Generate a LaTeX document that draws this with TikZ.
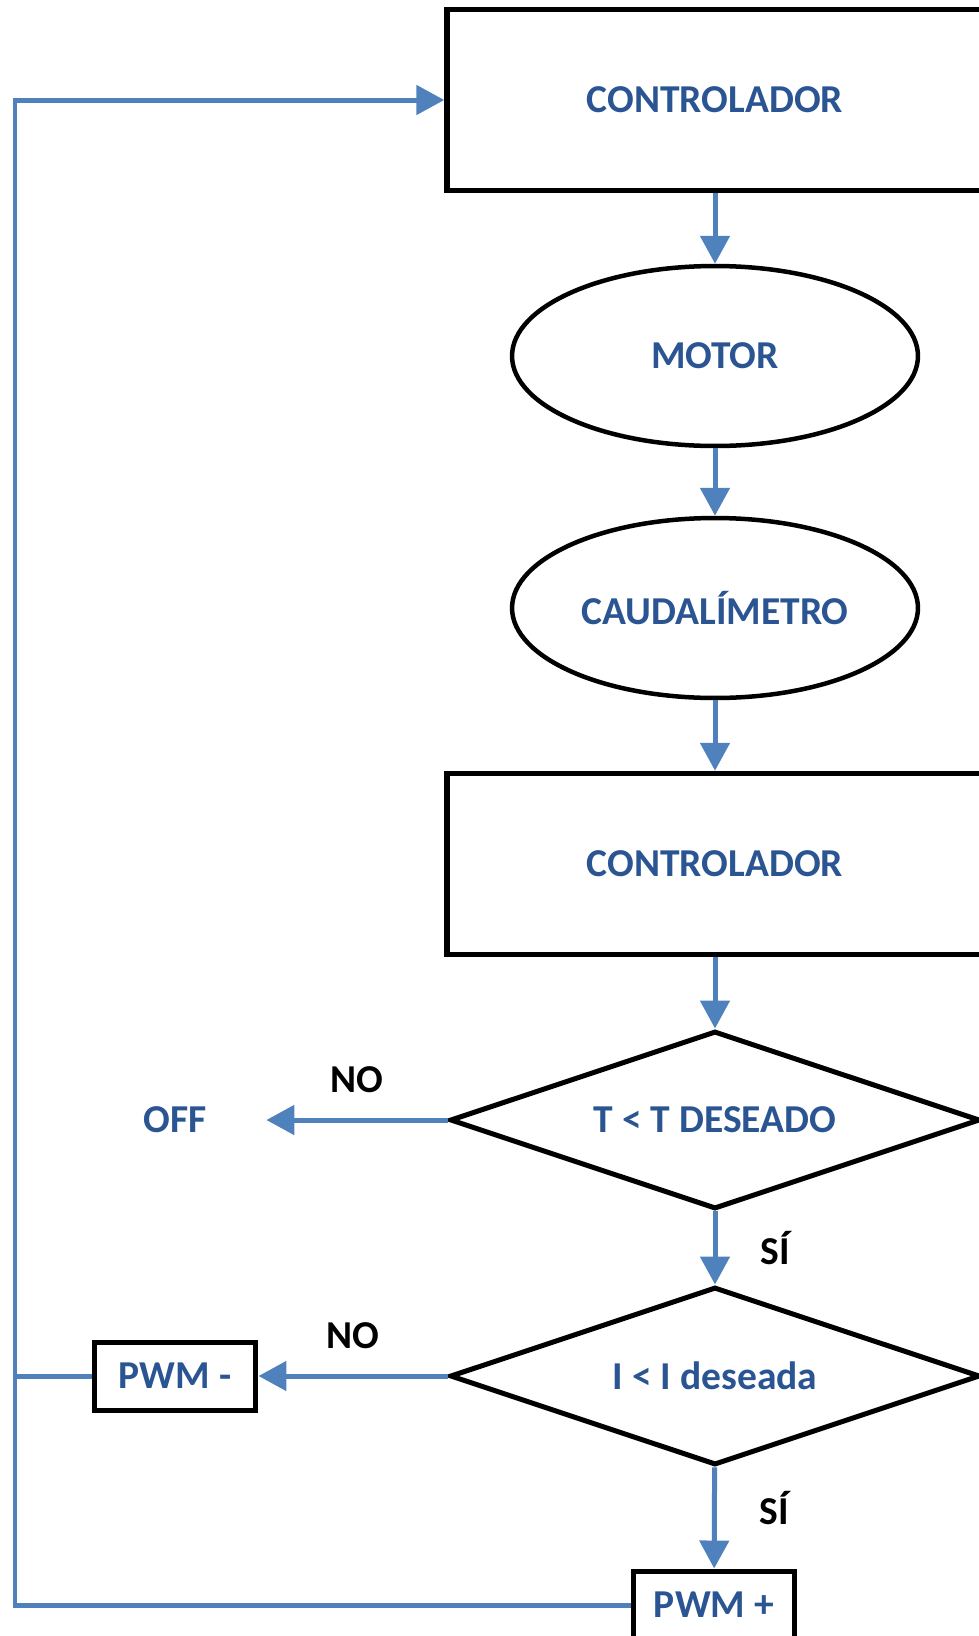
\documentclass[tikz,border=0pt]{standalone}
\usepackage{fontspec}
\setmainfont{Carlito}
\usetikzlibrary{shapes.geometric,arrows.meta}
\definecolor{flowblue}{HTML}{4F81BD}
\definecolor{textblue}{HTML}{2A5592}

\begin{document}
\begin{tikzpicture}[x=0.02cm, y=-0.02cm, every node/.style={font=\bfseries\fontsize{22.5}{26}\selectfont, text=textblue}, >={Triangle[length=5.6mm, width=5.8mm]},
	ctrlbox/.style={draw, line width=0.11cm, minimum width=10.72cm, minimum height=3.62cm, inner sep=0},
	flowell/.style={draw, ellipse, line width=0.09cm, minimum width=8.12cm, minimum height=3.6cm, inner sep=0},
	decision/.style={draw, diamond, shape aspect=3, line width=0.1cm, minimum width=10.6cm, minimum height=3.56cm, inner sep=0},
	pwmbox/.style={draw, line width=0.1cm, minimum width=3.24cm, minimum height=1.36cm, inner sep=0},
	offnode/.style={minimum width=3.64cm, inner sep=0},
	flowarrow/.style={draw=flowblue, line width=0.1cm, ->},
	flowline/.style={draw=flowblue, line width=0.1cm},
	nolabel/.style={above=0.5cm, inner sep=0, text=black},
	yeslabel/.style={right=0.86cm, inner sep=0, text=black}]
	\useasboundingbox (0,0) rectangle (979,1636);
	\clip (0,0) rectangle (979,1636);
	\node[ctrlbox] (ctrltop) at (715,100) {CONTROLADOR};
	\node[flowell] (motor) at (715,356) {MOTOR};
	\node[flowell] (caudal) at (715,608) {CAUDALÍMETRO};
	\node[ctrlbox] (ctrlbot) at (715,864) {CONTROLADOR};
	\node[decision] (tcheck) at (715,1120) {T < T DESEADO};
	\node[decision] (icheck) at (715,1376) {I < I deseada};
	\node[offnode] (off) at (175,1120) {OFF};
	\node[pwmbox] (pwmminus) at (175,1376) {PWM -};
	\node[pwmbox] (pwmplus) at (714,1605) {PWM +};
	\coordinate (loop) at (15,100);
	% main chain
	\draw[flowarrow] (ctrltop) -- (motor);
	\draw[flowarrow] (motor) -- (caudal);
	\draw[flowarrow] (caudal) -- (ctrlbot);
	\draw[flowarrow] (ctrlbot) -- (tcheck);
	\draw[flowarrow] (tcheck.west) -- node[nolabel] {NO} (off.east);
	\draw[flowarrow] (tcheck) -- node[yeslabel] {SÍ} (icheck);
	\draw[flowarrow] (icheck.west) -- node[nolabel] {NO} (pwmminus.east);
	\draw[flowarrow] (icheck) -- node[yeslabel, yshift=0.2cm] {SÍ} (pwmplus);
	% feedback
	\draw[flowarrow] (pwmplus.west) -| (loop) -- (ctrltop.west);
	\draw[flowline] (pwmminus.west) -- (pwmminus.west -| loop);
\end{tikzpicture}
\end{document}
